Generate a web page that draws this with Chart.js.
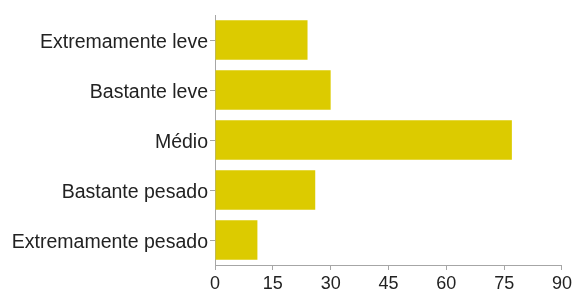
<!DOCTYPE html>
<html>
<head>
<meta charset="utf-8">
<script src="https://cdn.jsdelivr.net/npm/chart.js@4"></script>
<style>
  html, body { margin: 0; padding: 0; background: #fff; }
  #wrap { width: 575px; height: 289px; }
</style>
</head>
<body>
<div id="wrap"><canvas id="chart" width="575" height="289"></canvas></div>
<script>
// data
const categories = ['Extremamente leve', 'Bastante leve', 'Médio', 'Bastante pesado', 'Extremamente pesado'];
const answers = [24, 30, 77, 26, 11];
const xTicks = [0, 15, 30, 45, 60, 75, 90];

const axisColor = '#a6a6a6';
const textColor = '#222222';
const fontFamily = '"Liberation Sans", Arial, Helvetica, sans-serif';

const ctx = document.getElementById('chart').getContext('2d');
new Chart(ctx, {
    type: 'bar',
    data: {
        labels: categories,
        datasets: [{
            data: answers,
            backgroundColor: '#dccb00',
            borderWidth: 0,
            barPercentage: 0.79,
            categoryPercentage: 1
        }]
    },
    options: {
        indexAxis: 'y',
        responsive: false,
        animation: false,
        layout: { padding: { top: 15, right: 13, left: 0, bottom: 0 } },
        plugins: {
            legend: { display: false },
            tooltip: { enabled: false }
        },
        scales: {
            x: {
                min: 0,
                max: 90,
                afterBuildTicks: function(scale) {
                    scale.ticks = xTicks.map(v => ({ value: v }));
                },
                afterFit: function(scale) { scale.height = 24; },
                border: { display: true, color: axisColor, width: 1 },
                grid: { drawOnChartArea: false, drawTicks: true, tickLength: 5, color: axisColor },
                ticks: {
                    color: textColor,
                    padding: 3,
                    maxRotation: 0,
                    font: { family: fontFamily, size: 18 }
                }
            },
            y: {
                afterFit: function(scale) { scale.width = 215; },
                border: { display: true, color: axisColor, width: 1 },
                grid: { offset: false, drawOnChartArea: false, drawTicks: true, tickLength: 5, color: axisColor },
                ticks: {
                    color: textColor,
                    padding: 2,
                    labelOffset: 3,
                    font: { family: fontFamily, size: 19.5 }
                }
            }
        }
    }
});
</script>
</body>
</html>
